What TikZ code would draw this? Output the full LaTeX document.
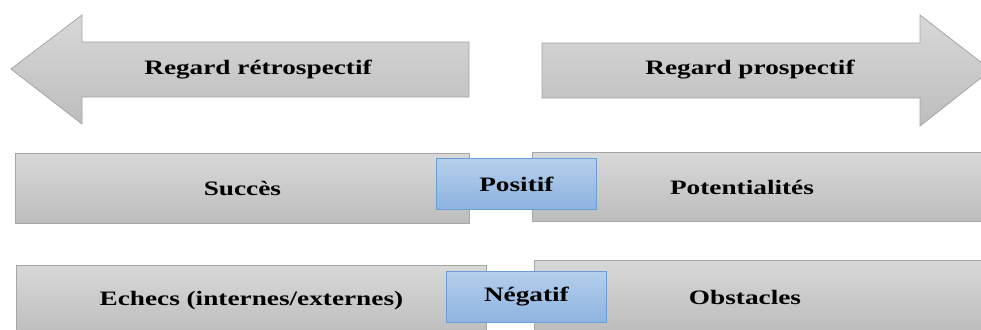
\documentclass[tikz,border=0pt]{standalone}
\usepackage{fontspec}
\setmainfont{Liberation Serif}[FakeStretch=1.33]
\usetikzlibrary{positioning}

\definecolor{gtop}{HTML}{D8D8D8}
\definecolor{gbot}{HTML}{BDBDBD}
\definecolor{gline}{HTML}{A6A6A6}
\definecolor{btop}{HTML}{B5CFEC}
\definecolor{bbot}{HTML}{8DB3E0}
\definecolor{bline}{HTML}{6A9ED6}

\begin{document}
\begin{tikzpicture}[x=1pt,y=-1pt,font=\fontsize{20.5}{22}\selectfont\bfseries,
  gshade/.style={draw=gline,line width=0.8pt,top color=gtop,bottom color=gbot},
  gbox/.style={gshade,anchor=north west,inner sep=0pt,minimum height=70pt},
  bbox/.style={draw=bline,line width=0.8pt,top color=btop,bottom color=bbot,
    anchor=north west,inner sep=0pt,minimum width=160pt,minimum height=51pt},
  lbl/.style={inner sep=0pt}]
\useasboundingbox (0,0) rectangle (981,329);
\clip (0,0) rectangle (981,329);

% arrows
\path[gshade] (11,69) -- (82,15) -- (82,42) -- (469,42) -- (469,97)
  -- (82,97) -- (82,124) -- cycle;
\path[gshade] (542,43) -- (920,43) -- (920,15) -- (991,70) -- (920,126)
  -- (920,98) -- (542,98) -- cycle;
\node[lbl] (retro) at (258,70) {Regard rétrospectif};
\node[lbl] (pros) at (750,70) {Regard prospectif};

% positif
\node[gbox,minimum width=454pt] (succ) at (15,153) {Succès};
\node[gbox,minimum width=460pt,minimum height=69pt] (potbox) at (532,152) {};
\node[lbl] (pot) at (742,187) {Potentialités};
\node[bbox] (posi) at (436,158) {Positif};

% negatif
\node[gbox,minimum width=470pt] (ech) at (16,265) {Echecs (internes/externes)};
\node[gbox,minimum width=460pt] (obsbox) at (534,260) {};
\node[lbl] (obs) at (745,297) {Obstacles};
\node[bbox] (nega) at (446,271) {Négatif};
\end{tikzpicture}
\end{document}
